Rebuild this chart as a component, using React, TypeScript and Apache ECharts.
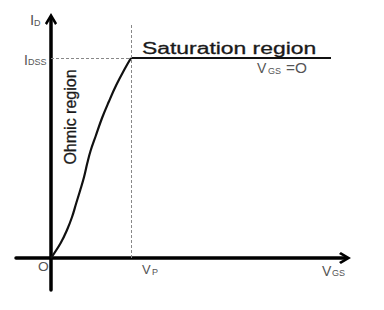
import React, { useEffect, useRef } from "react";
import * as echarts from "echarts";

// Ohmic region curve (x in units of Vp, y in units of IDSS)
const ohmicVgs = [0, 0.121, 0.2, 0.263, 0.316, 0.366, 0.413, 0.454, 0.494, 0.559, 0.638, 0.721, 0.816, 0.921, 1.0];
const ohmicId = [0, 0.075, 0.14, 0.205, 0.275, 0.34, 0.405, 0.475, 0.535, 0.61, 0.7, 0.78, 0.865, 0.945, 1.0];
// Saturation region
const satVgs = [1, 3.5];
const satId = [1, 1];
// Reference levels
const vp = 1;
const idss = 1;
const guideTop = 1.165;

const FONT = '"Liberation Sans", Arial, sans-serif';
const GREY = "#555";
const DARK = "#1a1a1a";

function txt(x: number, y: number, text: string, size: number, fill: string, extra: any = {}) {
  const { style, ...rest } = extra;
  return {
    type: "text",
    x,
    y,
    silent: true,
    ...rest,
    style: {
      text,
      fontSize: size,
      fontFamily: FONT,
      fill,
      align: "left",
      verticalAlign: "middle",
      ...(style || {}),
    },
  };
}

const chevron = "path://M0,10 L6,0 L12,10 L10,11.8 L6,4.8 L2,11.8 Z";

export default function App() {
  const ref = useRef<HTMLDivElement>(null);
  useEffect(() => {
    if (!ref.current) return;
    const chart = echarts.init(ref.current, null, { renderer: "svg" });
    chart.setOption({
      animation: false,
      backgroundColor: "#fff",
      grid: { left: 16, right: 39, top: 19, bottom: 20, containLabel: false },
      xAxis: {
        type: "value",
        min: -0.4375,
        max: 3.675,
        axisLine: {
          show: true,
          onZero: true,
          lineStyle: { color: "#000", width: 3.5 },
          symbol: ["none", chevron],
          symbolSize: [13, 12],
        },
        axisTick: { show: false },
        axisLabel: { show: false },
        splitLine: { show: false },
      },
      yAxis: {
        type: "value",
        min: -0.16,
        max: 1.195,
        axisLine: {
          show: true,
          onZero: true,
          lineStyle: { color: "#000", width: 3.5 },
          symbol: ["none", chevron],
          symbolSize: [13, 12],
        },
        axisTick: { show: false },
        axisLabel: { show: false },
        splitLine: { show: false },
      },
      series: [
        {
          type: "line",
          name: "guides",
          data: [],
          silent: true,
          markLine: {
            silent: true,
            symbol: ["none", "none"],
            label: { show: false },
            lineStyle: { color: "#888", width: 1, type: [3, 2] },
            data: [
              [{ coord: [0, idss] }, { coord: [vp, idss] }],
              [{ coord: [vp, 0] }, { coord: [vp, guideTop] }],
            ],
          },
          z: 1,
        },
        {
          type: "line",
          name: "ohmic",
          data: ohmicVgs.map((v, i) => [v, ohmicId[i]]),
          smooth: 0.4,
          showSymbol: false,
          lineStyle: { color: "#111", width: 2.2 },
          z: 3,
        },
        {
          type: "line",
          name: "saturation",
          data: satVgs.map((v, i) => [v, satId[i]]),
          showSymbol: false,
          lineStyle: { color: "#111", width: 2 },
          z: 3,
        },
      ],
      graphic: [
        txt(30, 19.5, "I", 15, GREY),
        txt(34, 23, "D", 9, GREY),
        txt(24, 59.5, "I", 14, GREY),
        txt(28, 62, "DSS", 9, GREY),
        txt(142, 48.5, "Saturation region", 16, DARK, {
          scaleX: 1.43,
          style: { stroke: DARK, lineWidth: 0.3 },
        }),
        txt(257, 68, "V", 14, GREY),
        txt(268, 70.5, "GS", 9, GREY),
        txt(286, 68, "=O", 14, GREY, { scaleX: 1.1 }),
        txt(70, 117, "Ohmic region", 16, DARK, {
          rotation: Math.PI / 2,
          style: { align: "center", stroke: DARK, lineWidth: 0.3 },
        }),
        txt(38, 266.5, "O", 12, GREY, { scaleX: 1.15 }),
        txt(142, 269, "V", 13, GREY),
        txt(152, 271.5, "P", 9, GREY),
        txt(322, 271, "V", 14, GREY),
        txt(332, 273, "GS", 9, GREY),
      ],
    });
    return () => chart.dispose();
  }, []);
  return <div ref={ref} style={{ width: 384, height: 310, margin: -8 }} />;
}
